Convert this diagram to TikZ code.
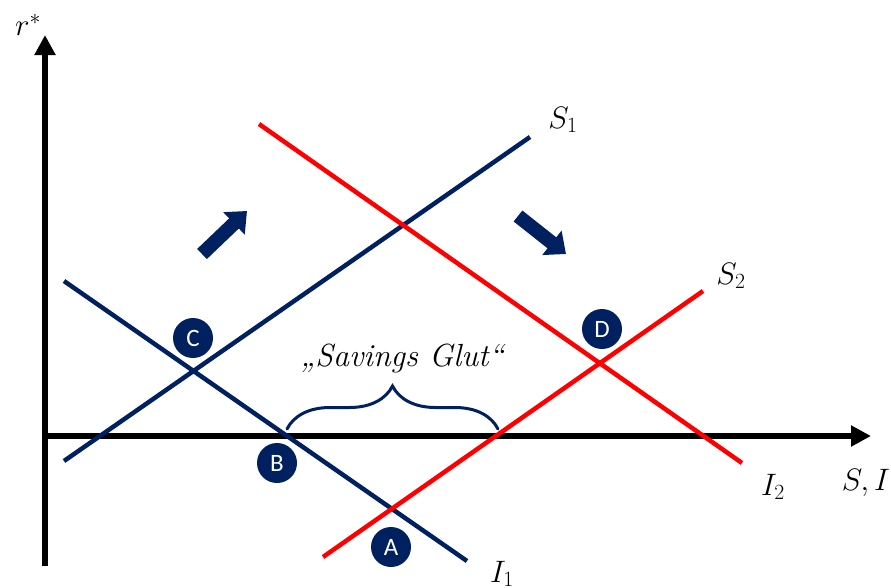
\documentclass[tikz,border=0pt]{standalone}
\usepackage{fix-cm}
\usepackage{fontspec}
\newfontfamily\circfont{Carlito}
\usetikzlibrary{arrows.meta,decorations.pathreplacing}
\definecolor{navy}{HTML}{002060}
\definecolor{myred}{HTML}{FF0000}
\tikzset{
  axis/.style={line width=6pt,-{Triangle[length=20pt,width=20pt]}},
  navyline/.style={navy,line width=4.5pt},
  redline/.style={myred,line width=4.5pt},
  pt/.style={circle,fill=navy,minimum size=40pt,inner sep=0pt,text=white,font=\circfont\fontsize{25}{27}\selectfont},
  lbl/.style={font=\fontsize{31}{36}\selectfont,inner sep=0pt},
  bigarrow/.style={navy,line width=14pt,-{Triangle[length=18pt,width=30pt]}}
}
\begin{document}
\begin{tikzpicture}[x=1pt,y=-1pt]
\useasboundingbox (0,0) rectangle (891,587);
% coordinates
\coordinate (o) at (45,436);
\coordinate (ytop) at (45,35);
\coordinate (ybot) at (45,566);
\coordinate (xr) at (871,436);
\coordinate (s1a) at (64,461);
\coordinate (s1b) at (530,137);
\coordinate (i1a) at (64,281);
\coordinate (i1b) at (467,561);
\coordinate (i2a) at (259,124);
\coordinate (i2b) at (742,463);
\coordinate (s2a) at (323,557);
\coordinate (s2b) at (703,291);
\coordinate (brl) at (287,429);
\coordinate (brr) at (498,429);
\coordinate (la0) at (202,254);
\coordinate (la1) at (247,211);
\coordinate (ra0) at (518,216);
\coordinate (ra1) at (566,254);
% axes
\draw[axis] (ybot) -- (ytop);
\draw[axis] (o) -- (xr);
% lines
\draw[navyline] (s1a) -- (s1b);
\draw[navyline] (i1a) -- (i1b);
\draw[redline] (i2a) -- (i2b);
\draw[redline] (s2a) -- (s2b);
% brace
\draw[navy,line width=3pt,line cap=round,decorate,decoration={brace,amplitude=43pt}] (brl) -- (brr);
% shift arrows
\draw[bigarrow] (la0) -- (la1);
\draw[bigarrow] (ra0) -- (ra1);
% points
\node[pt] (C) at (193,338) {C};
\node[pt] (B) at (277,463) {B};
\node[pt] (A) at (391,547) {A};
\node[pt] (D) at (602,329) {D};
% labels
\node[lbl] (r) at (28,25) {$r^*$};
\node[lbl] (S1) at (563,120) {$S_1$};
\node[lbl] (S2) at (731,276) {$S_2$};
\node[lbl] (I2) at (773,487) {$I_2$};
\node[lbl] (SI) at (866,483) {$S,I$};
\node[lbl] (I1) at (502,574) {$I_1$};
\node[lbl,font=\itshape\fontsize{32}{36}\selectfont] (glut) at (402,358) {„Savings Glut“};
\end{tikzpicture}
\end{document}
